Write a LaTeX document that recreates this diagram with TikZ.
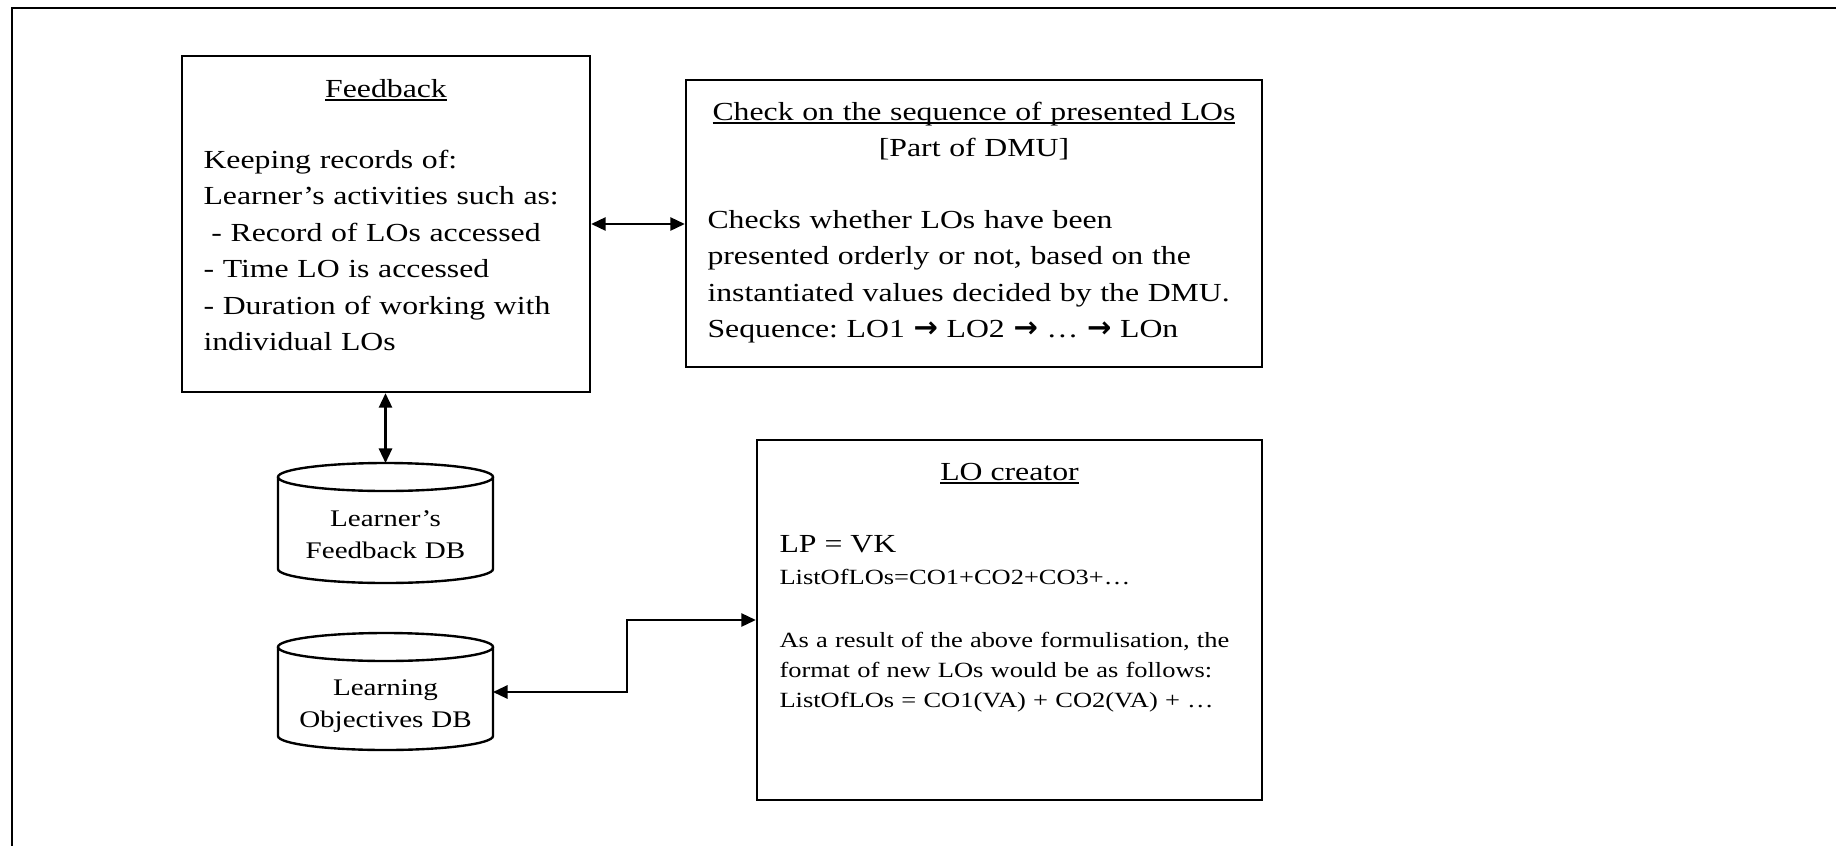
\documentclass[tikz,border=0pt]{standalone}
\usepackage{fontspec}
\setmainfont[FakeStretch=1.22]{Liberation Serif}
\newfontfamily\arrowfont{DejaVu Sans}
\usetikzlibrary{arrows.meta}
\newcommand{\pxl}{0.378pt}
\newcommand{\seqto}{{\arrowfont\bfseries\fontsize{11}{12}\selectfont →}}
\newcommand{\undl}[1]{\setbox0\hbox{#1}\rlap{\rule[-1.4pt]{\wd0}{0.5pt}}\box0}
\tikzset{
	box/.style={draw, line width=0.9pt, inner sep=0pt},
	dbline/.style={line width=0.9pt},
	link/.style={line width=0.8pt, {Triangle[length=5.5pt, width=5pt]}-{Triangle[length=5.5pt, width=5pt]}},
	txt/.style={inner sep=0pt, font=\fontsize{9.84}{13.8}\selectfont\frenchspacing},
	small/.style={inner sep=0pt, font=\fontsize{8.2}{11.5}\selectfont\frenchspacing},
	dbtxt/.style={inner sep=0pt, text width=200*\pxl, align=center, font=\fontsize{9}{12.1}\selectfont}
}

\begin{document}
\begin{tikzpicture}[x=\pxl, y=-\pxl]
		\useasboundingbox(0, 0) rectangle (1836, 846);
		\draw[line width=0.9pt](12, 846)--(12, 8)--(1836, 8);
		\node[box, minimum width=408*\pxl, minimum height=336*\pxl](fb) at (386, 224){};
		\node[txt, anchor=base](fbtitle) at (386, 97){\undl{Feedback}};
		\node[txt, anchor=base west, text width=380*\pxl, align=left](fbbody) at (203, 168){Keeping records of:\\Learner’s activities such as:\\\hspace*{3pt}- Record of LOs accessed\\- Time LO is accessed\\- Duration of working with\\individual LOs};
		\node[box, minimum width=576*\pxl, minimum height=287*\pxl](seq) at (974, 223.5){};
		\node[txt, anchor=base, text width=560*\pxl, align=center](seqtitle) at (974, 120){\undl{Check on the sequence of presented LOs}\\{[Part of DMU]}};
		\node[txt, anchor=base west, text width=540*\pxl, align=left](seqbody) at (707, 228){Checks whether LOs have been\\presented orderly or not, based on the\\instantiated values decided by the DMU.\\Sequence: LO1 \seqto{} LO2 \seqto{} … \seqto{} LOn};
		\node[box, minimum width=505*\pxl, minimum height=360*\pxl](creator) at (1009.5, 620){};
		\node[txt, anchor=base](creatortitle) at (1009.5, 480){\undl{LO creator}};
		\node[txt, anchor=base west](lpvk) at (779, 552){LP = VK};
		\node[small, anchor=base west](colist) at (779, 584){ListOfLOs=CO1+CO2+CO3+…};
		\node[small, anchor=base west, text width=470*\pxl, align=left](creatorbody) at (779, 647){As a result of the above formulisation, the\\format of new LOs would be as follows:\\ListOfLOs = CO1(VA) + CO2(VA) + …};
		\draw[dbline](278, 477)--(278, 569) arc[start angle=180, end angle=0, x radius=107.5, y radius=14]--(493, 477);
		\draw[dbline](385.5, 477) ellipse[x radius=107.5, y radius=14];
		\coordinate(lfdbtop) at (385.5, 463);
		\node[dbtxt, anchor=base](lfdb) at (385.5, 526){Learner’s\\Feedback DB};
		\draw[dbline](278, 647)--(278, 736) arc[start angle=180, end angle=0, x radius=107.5, y radius=14]--(493, 647);
		\draw[dbline](385.5, 647) ellipse[x radius=107.5, y radius=14];
		\coordinate(lodbport) at (493, 692);
		\node[dbtxt, anchor=base](lodb) at (385.5, 695){Learning\\Objectives DB};
		\draw[link](fb.east)--(fb.east -| seq.west);
		\draw[link](lfdbtop)--(lfdbtop |- fb.south);
		\draw[link](lodbport)--++(134, 0) |- (creator.west);
	\end{tikzpicture}
\end{document}
